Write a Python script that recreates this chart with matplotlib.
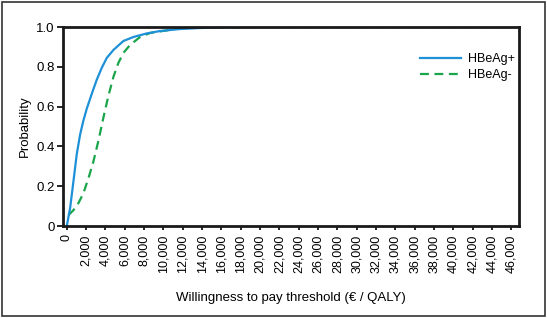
import matplotlib.pyplot as plt
from matplotlib.patches import Rectangle
from matplotlib.ticker import FuncFormatter

# Acceptability curves
wtp_pos = [0, 345, 690, 1030, 1380, 1720, 2070, 2590, 3100, 3620, 4140, 4830, 5860, 6900,
           8280, 9660, 11720, 13800, 16000, 20000, 30000, 46000]
prob_pos = [0.0, 0.09, 0.225, 0.36, 0.46, 0.53, 0.59, 0.665, 0.735, 0.795, 0.845, 0.885, 0.93, 0.95,
            0.968, 0.98, 0.99, 0.995, 0.998, 1.0, 1.0, 1.0]

wtp_neg = [170, 690, 1200, 1720, 2240, 2760, 3280, 3790, 4310, 4830, 5340, 5860, 6550, 7590,
           8620, 10340, 11720, 13500, 16000, 20000, 30000, 46000]
prob_neg = [0.055, 0.08, 0.115, 0.165, 0.24, 0.325, 0.43, 0.545, 0.655, 0.75, 0.82, 0.87, 0.91, 0.95,
            0.97, 0.983, 0.995, 0.998, 0.999, 1.0, 1.0, 1.0]

x_ticks = list(range(0, 46001, 2000))
y_ticks = [0, 0.2, 0.4, 0.6, 0.8, 1.0]
y_labels = ['0', '0.2', '0.4', '0.6', '0.8', '1.0']

plt.rcParams['font.family'] = ['Liberation Sans', 'DejaVu Sans']

fig = plt.figure(figsize=(5.47, 3.18), dpi=100)
ax = fig.add_axes([0.115, 0.289, 0.834, 0.626])

ax.plot(wtp_neg, prob_neg, color='#1aa54b', linewidth=1.6, linestyle=(0, (4, 2.5)), label='HBeAg-')
ax.plot(wtp_pos, prob_pos, color='#1e90d8', linewidth=1.6, label='HBeAg+')

ax.set_xlim(-400, 46800)
ax.set_ylim(0, 1.0)
ax.set_xticks(x_ticks)
ax.xaxis.set_major_formatter(FuncFormatter(lambda v, p: f'{int(v):,}'))
ax.set_yticks(y_ticks)
ax.set_yticklabels(y_labels)
ax.tick_params(axis='x', labelrotation=90, labelsize=9, length=3, width=1.2, pad=3)
ax.tick_params(axis='y', labelsize=9.5, length=4, width=1.2, pad=2)

for s in ax.spines.values():
    s.set_linewidth(2)
    s.set_color('#1a1a1a')

ax.set_xlabel('Willingness to pay threshold (€ / QALY)', fontsize=9.5, labelpad=14)
ax.set_ylabel('Probability', fontsize=9.5, labelpad=4)

handles, labels = ax.get_legend_handles_labels()
ax.legend(handles[::-1], labels[::-1], loc='upper left', bbox_to_anchor=(0.783, 0.87),
          frameon=False, fontsize=9, handlelength=3.3, handletextpad=0.5, labelspacing=0.35,
          borderpad=0, borderaxespad=0)

# thin frame around the whole figure
fig.patches.append(Rectangle((0.004, 0.006), 0.992, 0.988, transform=fig.transFigure,
                             fill=False, edgecolor='#333333', linewidth=1.2))

fig.savefig('out.png', dpi=100)
